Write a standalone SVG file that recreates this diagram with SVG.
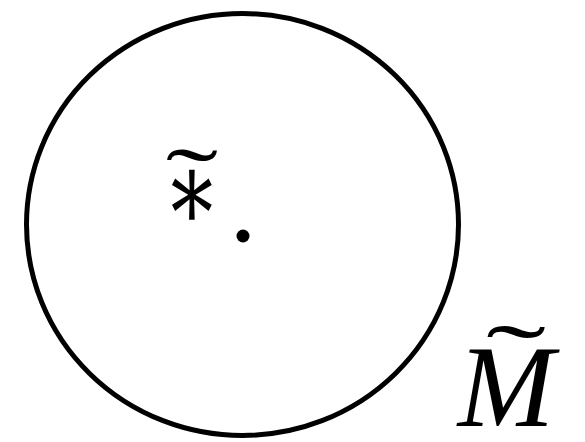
<svg xmlns="http://www.w3.org/2000/svg" width="585" height="442" viewBox="0 0 585 442">
<style>
.lbl{font-family:"Liberation Serif","DejaVu Serif",serif;fill:#000}
</style>
<rect width="585" height="442" fill="#fff"/>
<g id="disk">
<ellipse cx="242.5" cy="224.5" rx="216" ry="211" fill="none" stroke="#000" stroke-width="5"/>
</g>
<g id="point">
<circle cx="243" cy="236" r="6.5" fill="#000"/>
</g>
<g id="basepoint-label">
<text class="lbl" x="0" y="0" font-size="100" text-anchor="middle" font-family="DejaVu Serif" transform="translate(192 229) scale(0.85 1.1)">∗</text>
<text class="lbl" x="192" y="211" font-size="90" text-anchor="middle" transform="translate(192 0) scale(1.75 1) translate(-192 0)">˜</text>
</g>
<g id="M-label">
<text class="lbl" x="506" y="426" font-size="116" font-style="italic" text-anchor="middle">M</text>
<text class="lbl" x="516" y="390" font-size="95" text-anchor="middle" transform="translate(516 0) scale(1.9 1) translate(-516 0)">˜</text>
</g>
</svg>
